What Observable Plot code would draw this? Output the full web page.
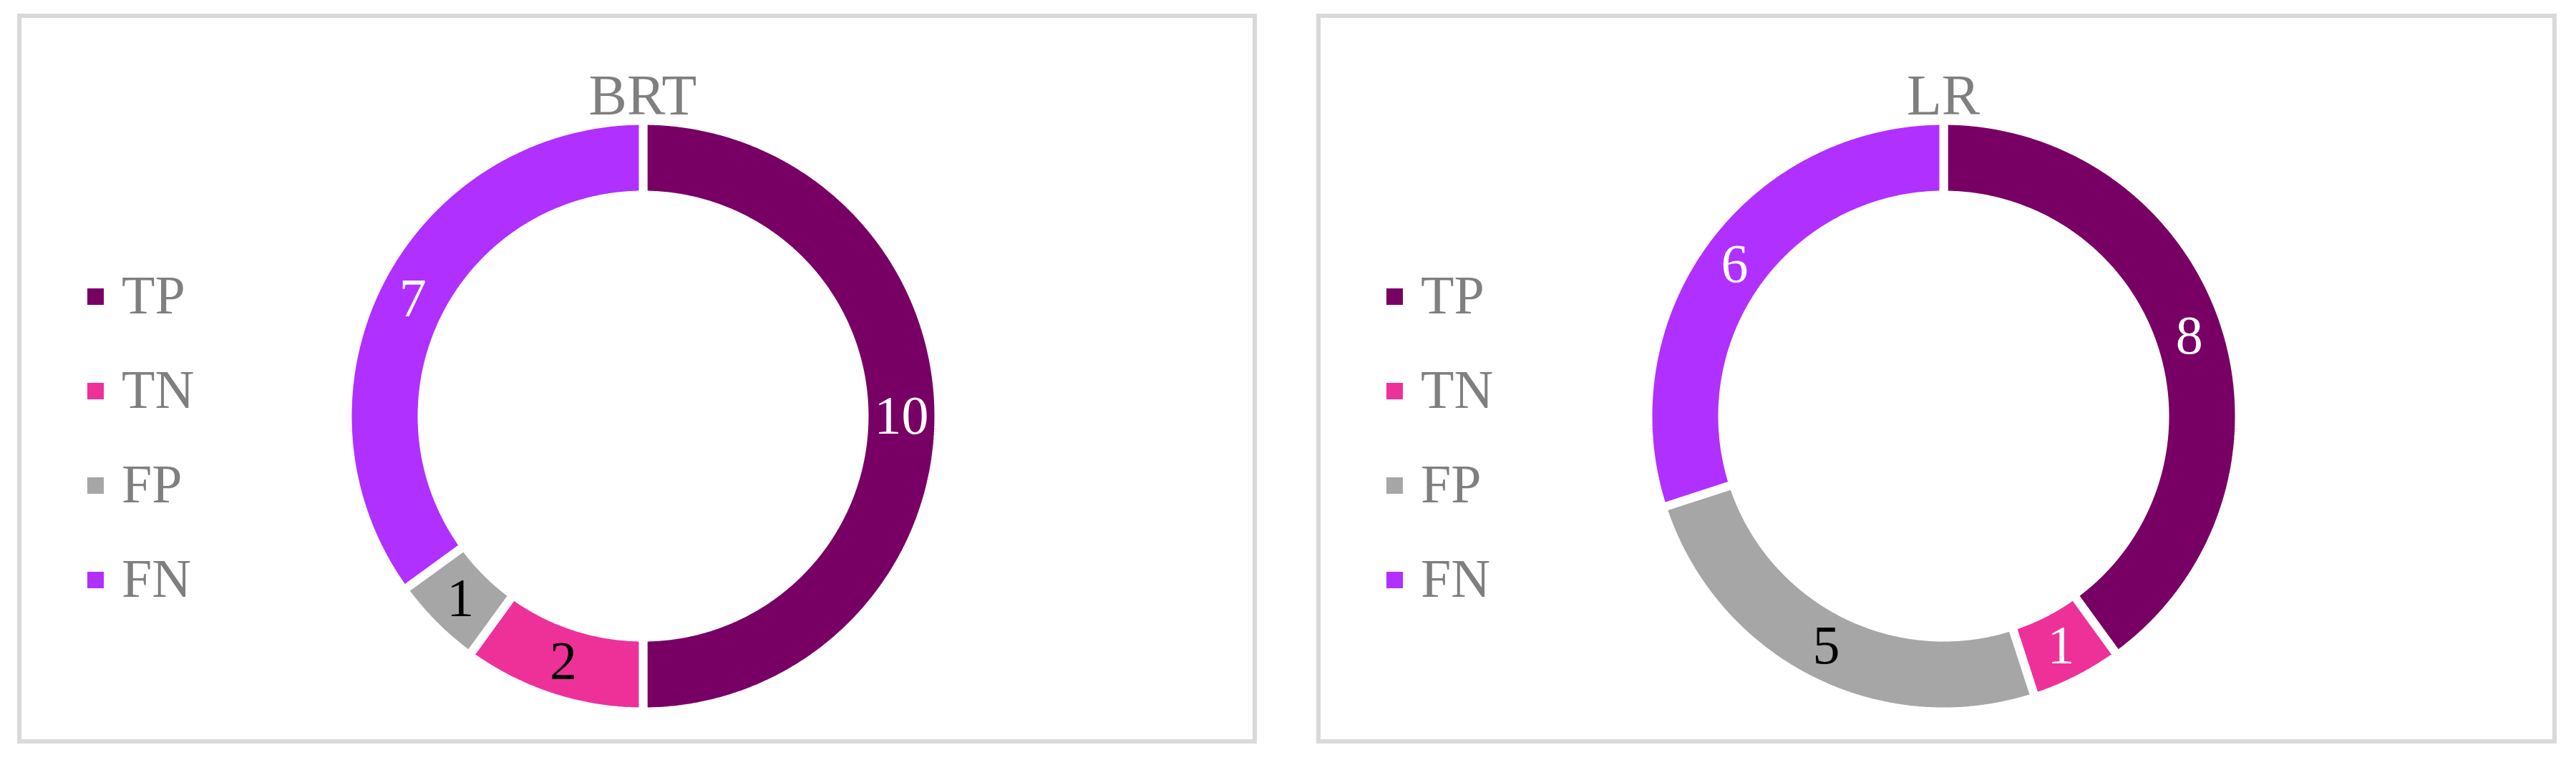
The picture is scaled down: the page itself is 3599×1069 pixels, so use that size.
<!DOCTYPE html>
<html>
<head>
<meta charset="utf-8">
<script src="https://cdn.jsdelivr.net/npm/d3@7"></script>
<script src="https://cdn.jsdelivr.net/npm/@observablehq/plot@0.6"></script>
<style>
  html, body { margin: 0; padding: 0; background: #fff; }
  body { width: 3599px; height: 1069px; position: relative; overflow: hidden;
         font-family: "Liberation Serif", "Times New Roman", serif; }
  .panel { position: absolute; background: #fff; }
  .border { position: absolute; left: 0; top: 0; right: 0; bottom: 0; box-sizing: border-box;
            border: 6px solid #d9d9d9; pointer-events: none; }
  .panel svg { position: absolute; left: 0; top: 0; }
  .title { position: absolute; font-size: 80px; line-height: 1; color: #7f7f7f; white-space: nowrap;
           transform: translateX(-50%); }
  .lg-sw { position: absolute; width: 23px; height: 23px; }
  .lg-tx { position: absolute; font-size: 76px; line-height: 1; color: #7f7f7f; white-space: nowrap; }
</style>
</head>
<body>
<script>
// ---------------- data ----------------
const categories = ["TP", "TN", "FP", "FN"];
const modelNames = ["BRT", "LR"];
const brtValues = [10, 2, 1, 7];
const lrValues = [8, 1, 5, 6];

// ---------------- styles / layout ----------------
const sliceColors = ["#780064", "#EE3199", "#A6A6A6", "#B030FF"];
const labelColorsByModel = [
  ["white", "black", "black", "white"],
  ["white", "white", "black", "white"]
];
const panelLayout = [
  { left: 24, top: 19, width: 1732, height: 1020, cx: 874, cy: 562 },
  { left: 1839, top: 19, width: 1733, height: 1020, cx: 876, cy: 562 }
];
const outerPx = 413;          // polygon outer radius (white stroke trims 6px)
const innerRatio = 309 / 413; // polygon inner radius / outer
const labelRatio = 361 / 413;
const gapStroke = 12;
const fontFam = "Liberation Serif";

function slicePoints(values) {
  const total = d3.sum(values);
  const pts = [];
  let start = 0;
  values.forEach((v, i) => {
    const a0 = start / total * 2 * Math.PI;
    const a1 = (start + v) / total * 2 * Math.PI;
    const n = Math.max(2, Math.ceil((a1 - a0) / (Math.PI / 360)));
    for (let k = 0; k <= n; k++) {
      const a = a0 + (a1 - a0) * k / n;
      pts.push({ cat: categories[i], x: Math.sin(a), y: Math.cos(a) });
    }
    for (let k = n; k >= 0; k--) {
      const a = a0 + (a1 - a0) * k / n;
      pts.push({ cat: categories[i], x: innerRatio * Math.sin(a), y: innerRatio * Math.cos(a) });
    }
    start += v;
  });
  return pts;
}

function labelPoints(values, colors) {
  const total = d3.sum(values);
  let start = 0;
  return values.map((v, i) => {
    const am = (start + v / 2) / total * 2 * Math.PI;
    start += v;
    return { cat: categories[i], value: v, x: labelRatio * Math.sin(am), y: labelRatio * Math.cos(am), color: colors[i] };
  });
}

[brtValues, lrValues].forEach((values, m) => {
  const L = panelLayout[m];
  const panel = document.createElement("div");
  panel.className = "panel";
  Object.assign(panel.style, { left: L.left + "px", top: L.top + "px", width: L.width + "px", height: L.height + "px" });
  document.body.appendChild(panel);

  const labels = labelPoints(values, labelColorsByModel[m]);
  const chart = Plot.plot({
    width: L.width,
    height: L.height,
    margin: 0,
    style: { background: "transparent", fontFamily: fontFam },
    x: { domain: [-1, 1], range: [L.cx - outerPx, L.cx + outerPx], axis: null },
    y: { domain: [-1, 1], range: [L.cy + outerPx, L.cy - outerPx], axis: null },
    color: { domain: categories, range: sliceColors },
    marks: [
      Plot.line(slicePoints(values), {
        x: "x", y: "y", z: "cat", fill: "cat",
        stroke: "white", strokeWidth: gapStroke, strokeLinejoin: "miter",
        curve: "linear-closed"
      }),
      Plot.text(labels.filter(d => d.color === "white"), {
        x: "x", y: "y", text: d => String(d.value), fill: "white",
        fontSize: 76, fontFamily: fontFam, textAnchor: "middle", lineAnchor: "middle"
      }),
      Plot.text(labels.filter(d => d.color === "black"), {
        x: "x", y: "y", text: d => String(d.value), fill: "black",
        fontSize: 76, fontFamily: fontFam, textAnchor: "middle", lineAnchor: "middle"
      })
    ]
  });
  panel.appendChild(chart);

  // title
  const t = document.createElement("div");
  t.className = "title";
  t.textContent = modelNames[m];
  Object.assign(t.style, { left: L.cx + "px", top: (141 - 67) + "px" });
  panel.appendChild(t);

  // legend
  categories.forEach((c, i) => {
    const sw = document.createElement("div");
    sw.className = "lg-sw";
    Object.assign(sw.style, { left: "98px", top: (384 + i * 132) + "px", background: sliceColors[i] });
    panel.appendChild(sw);
    const tx = document.createElement("div");
    tx.className = "lg-tx";
    tx.textContent = c;
    Object.assign(tx.style, { left: "146px", top: (419 - 64 + i * 132) + "px" });
    panel.appendChild(tx);
  });

  const b = document.createElement("div");
  b.className = "border";
  panel.appendChild(b);
});
</script>
</body>
</html>
